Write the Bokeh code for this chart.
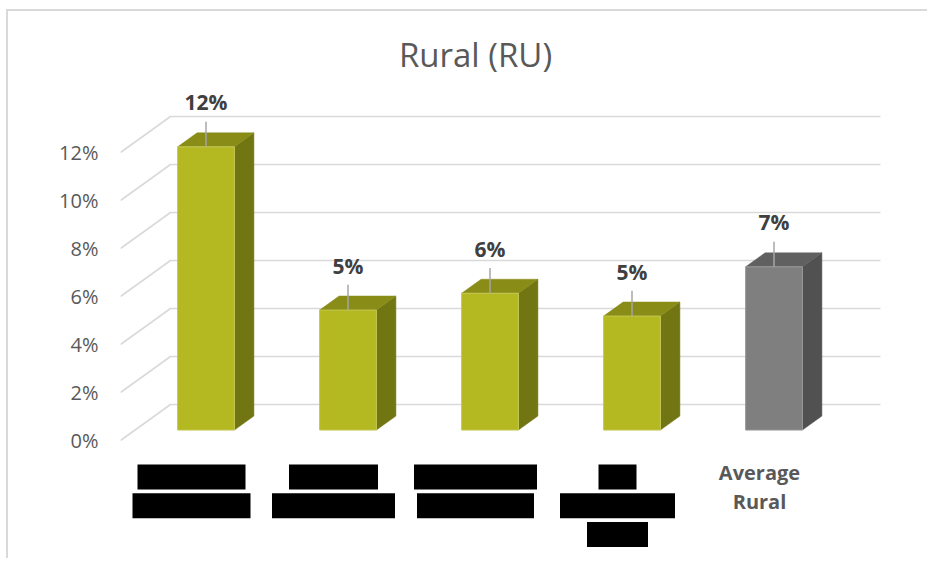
from bokeh.plotting import figure
from bokeh.models import Range1d, LinearAxis, FixedTicker, PrintfTickFormatter
from bokeh.core.properties import value
from bokeh.embed import file_html
from bokeh.resources import INLINE

# ---------------- data ----------------
title_text = "Rural (RU)"
categories = ["[redacted]", "[redacted]", "[redacted]", "[redacted]", "Average\nRural"]
values = [11.8, 5.0, 5.7, 4.75, 6.8]          # percent
is_average = [False, False, False, False, True]
y_ticks = [0, 2, 4, 6, 8, 10, 12]

# widths (px) of the black redaction boxes covering each category label line
redacted_lines = [[108, 118], [89, 123], [123, 117], [38, 115, 61], []]

# ---------------- layout constants ----------------
PX_CAT = 142.0      # px per category
PX_PCT = 24.0       # px per percent
DX = 50.0 / PX_CAT  # full depth offset in x (category units)
DY = 36.0 / PX_PCT  # full depth offset in y (percent units)
F0 = 0.29           # depth fraction of bar front
FD = 0.39           # depth fraction covered by bar
HW = 0.2            # half bar width (category units)

OX, OY = 8, 11      # page position of the canvas origin
W, H = 921, 549
LEFT = 120 - OX
x_end = (OX + W - 120) / PX_CAT
y_top = (440 - OY) / PX_PCT
y_bot = -(OY + H - 440) / PX_PCT

p = figure(width=W, height=H, output_backend="svg", toolbar_location=None,
           x_range=Range1d(0, x_end), y_range=Range1d(y_bot, y_top),
           min_border_left=LEFT, min_border_right=0, min_border_top=0, min_border_bottom=0,
           x_axis_location=None, y_axis_location=None)
p.outline_line_color = None
p.grid.visible = False
p.background_fill_color = "white"
p.border_fill_color = "white"
p.styles = {"border-left": "2px solid #d9d9d9", "border-top": "2px solid #d9d9d9",
            "margin-left": "6px", "margin-top": "9px"}

yaxis = LinearAxis(ticker=FixedTicker(ticks=y_ticks), formatter=PrintfTickFormatter(format="%d%%"))
yaxis.axis_line_color = None
yaxis.major_tick_line_color = None
yaxis.minor_tick_line_color = None
yaxis.major_tick_out = 0
yaxis.major_tick_in = 0
yaxis.major_label_standoff = 22
yaxis.major_label_text_font = "Open Sans"
yaxis.major_label_text_font_size = "20px"
yaxis.major_label_text_color = "#595959"
p.add_layout(yaxis, "left")

FONT = value("Open Sans")

# ---------------- gridlines (side wall + back wall) ----------------
gx, gy = [], []
for t in y_ticks:
    gx.append([0, DX, len(categories) + DX])
    gy.append([t, t + DY, t + DY])
p.multi_line(gx, gy, line_color="#d9d9d9", line_width=1.6)

# ---------------- bars ----------------
GREEN = ("#b5b921", "#898c16", "#717512", "#c3c756")
GREY = ("#7f7f7f", "#606060", "#515151", "#9a9a9a")

for i, v in enumerate(values):
    front, topc, side, edge = GREY if is_average[i] else GREEN
    cx = i + 0.5 + F0 * DX
    yb = F0 * DY
    yt = yb + v
    ddx, ddy = FD * DX, FD * DY
    p.patch([cx + HW, cx + HW + ddx, cx + HW + ddx, cx + HW],
            [yb, yb + ddy, yt + ddy, yt], fill_color=side, line_color=side, line_width=0.5)
    p.patch([cx - HW, cx + HW, cx + HW + ddx, cx - HW + ddx],
            [yt, yt, yt + ddy, yt + ddy], fill_color=topc, line_color=topc, line_width=0.5)
    p.quad(left=cx - HW, right=cx + HW, bottom=yb, top=yt,
           fill_color=front, line_color=edge, line_width=1)
    p.segment(x0=cx, y0=yt, x1=cx, y1=yt + 1.05, line_color="#a6a6a6", line_width=1.5)
    p.text(x=[cx], y=[yt + 1.85], text=[f"{round(v):d}%"], text_font=FONT,
           text_font_size="21px", text_font_style="bold", text_color="#404040",
           text_align="center", text_baseline="middle")

# ---------------- category labels ----------------
LINE_STEP = 28.7 / PX_PCT
BOX_H = 25.0 / PX_PCT
first_box_center = -(476.5 - 440) / PX_PCT
first_text_center = -(472.0 - 440) / PX_PCT
for i, cat in enumerate(categories):
    cx = i + 0.5
    if redacted_lines[i]:
        for k, wpx in enumerate(redacted_lines[i]):
            yc = first_box_center - k * LINE_STEP
            p.rect(x=[cx], y=[yc], width=[wpx / PX_CAT], height=[BOX_H],
                   fill_color="black", line_color=None)
    else:
        for k, line in enumerate(cat.split("\n")):
            yc = first_text_center - k * LINE_STEP
            p.text(x=[cx], y=[yc], text=[line], text_font=FONT, text_font_size="20px",
                   text_font_style="bold", text_color="#595959",
                   text_align="center", text_baseline="middle")

# ---------------- title ----------------
p.text(x=[len(categories) / 2], y=[(440 - 54) / PX_PCT], text=[title_text], text_font=FONT,
       text_font_size="33px", text_color="#595959", text_align="center",
       text_baseline="middle")

open("out.html", "w").write(file_html(p, INLINE))
